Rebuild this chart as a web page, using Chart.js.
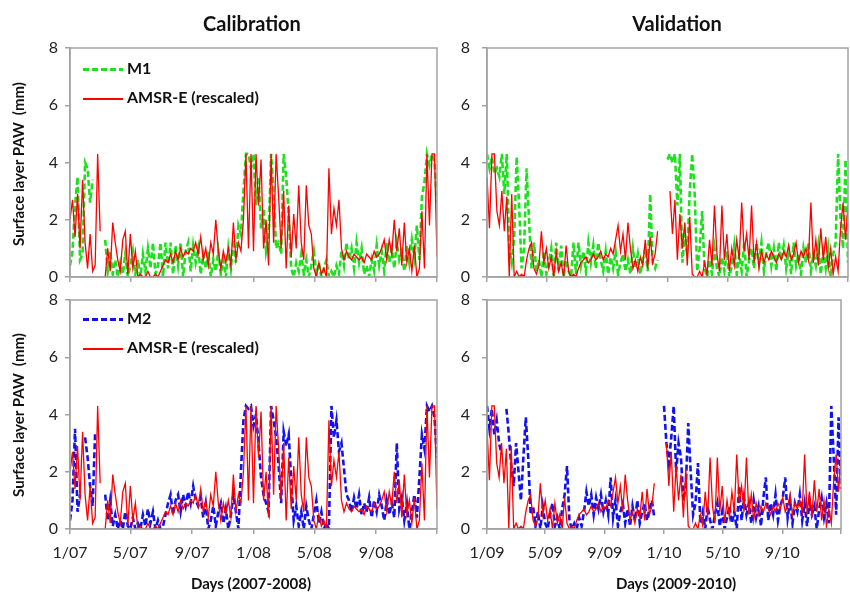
<!DOCTYPE html>
<html>
<head>
<meta charset="utf-8">
<script src="https://cdn.jsdelivr.net/npm/chart.js@4.4.1/dist/chart.umd.min.js"></script>
<style>
  body { margin: 0; background: #fff; }
  #painel { position: relative; width: 850px; height: 592px; font-family: Lato, "Open Sans", sans-serif; color: #111; overflow: hidden; }
  canvas { position: absolute; left: 0; top: 0; }
  .texto { position: absolute; font-weight: bold; white-space: nowrap; transform: translate(-50%, -50%); }
  .titulo { font-size: 20px; }
  .eixoX { font-size: 15px; }
  .eixoY { font-size: 15px; transform: translate(-50%, -50%) rotate(-90deg); }
  .legenda { position: absolute; font-weight: bold; font-size: 16px; white-space: nowrap; height: 20px; line-height: 20px; }
  .amostra { display: inline-block; width: 40px; vertical-align: middle; margin-right: 4px; }
</style>
</head>
<body>
<div id="painel">
  <canvas id="calM1" width="850" height="592"></canvas>
  <canvas id="valM1" width="850" height="592"></canvas>
  <canvas id="calM2" width="850" height="592"></canvas>
  <canvas id="valM2" width="850" height="592"></canvas>

  <div class="texto titulo" style="left:252px; top:23px;">Calibration</div>
  <div class="texto titulo" style="left:677px; top:23px;">Validation</div>
  <div class="texto eixoY" style="left:18px; top:164px;">Surface layer PAW&nbsp; (mm)</div>
  <div class="texto eixoY" style="left:18px; top:415px;">Surface layer PAW&nbsp; (mm)</div>
  <div class="texto eixoX" style="left:251px; top:583px;">Days (2007-2008)</div>
  <div class="texto eixoX" style="left:676px; top:583px;">Days (2009-2010)</div>

  <div class="legenda" style="left:83px; top:58px;"><span class="amostra" style="height:3px; background:repeating-linear-gradient(to right, #1fe01f 0 6px, transparent 6px 9px);"></span>M1</div>
  <div class="legenda" style="left:83px; top:87px;"><span class="amostra" style="height:1.5px; background:#ff0000;"></span>AMSR-E (rescaled)</div>
  <div class="legenda" style="left:83px; top:308px;"><span class="amostra" style="height:3px; background:repeating-linear-gradient(to right, #1212f0 0 6px, transparent 6px 9px);"></span>M2</div>
  <div class="legenda" style="left:83px; top:337px;"><span class="amostra" style="height:1.5px; background:#ff0000;"></span>AMSR-E (rescaled)</div>
</div>

<script>
// um valor a cada 5 dias, de 1/jan ate 31/dez do segundo ano
const passoDias = 5;

const rotulosCal = ["1/07", "5/07", "9/07", "1/08", "5/08", "9/08", ""];
const rotulosVal = ["1/09", "5/09", "9/09", "1/10", "5/10", "9/10", ""];
const marcasDias = [0, 120, 243, 365, 486, 609, 730];
const ticksY = [0, 2, 4, 6, 8];

const amsrCal = [
  2.0, 2.7, 1.4, 2.9, 1.0, 3.4, 1.2, 0.3, 1.5, 0.2,
  0.4, 4.3, 1.6, null, 0.0, 1.0, 0.2, 1.9, 1.2, 0.6,
  0.2, 1.3, 1.6, 0.1, 1.5, 0.3, 0.9, 0.0, 0.1, 0.0,
  0.0, 0.2, 0.0, 0.0, 0.1, 0.0, 0.2, 0.4, 0.6, 0.5,
  0.8, 0.5, 0.9, 0.6, 1.0, 0.7, 0.9, 0.8, 1.0, 0.9,
  1.2, 0.8, 1.4, 0.6, 1.0, 0.4, 1.2, 0.8, 2.0, 0.9,
  0.3, 0.9, 0.5, 1.0, 0.4, 1.9, 0.6, 1.2, 0.9, 2.0,
  4.3, 1.0, 4.3, 0.9, 4.3, 2.5, 4.1, 1.0, 2.0, 0.4,
  4.3, 1.2, 4.3, 2.8, 1.0, 3.0, 0.3, 2.5, 0.7, 2.2,
  1.0, 3.2, 1.2, 0.6, 3.2, 1.8, 1.5, 0.3, 0.0, 0.5,
  0.1, 0.3, 0.0, 3.8, 1.5, 2.4, 1.8, 2.7, 1.0, 0.6,
  0.9, 0.7, 0.6, 0.8, 0.7, 0.6, 0.7, 0.5, 0.8, 0.7,
  0.6, 0.9, 0.7, 0.8, 1.0, 1.3, 0.6, 1.3, 0.8, 2.0,
  0.9, 1.7, 0.4, 1.9, 0.5, 1.0, 0.2, 1.1, 0.0, 0.3,
  2.3, 0.3, 4.3, 1.8, 4.3, 4.3, 0.7
];

const m1Cal = [
  0.4, 0.9, 2.5, 3.5, 0.6, 0.8, 4.0, 3.8, 2.6, 3.4,
  null, 3.5, null, null, 1.3, 0.2, 0.9, 0.1, 0.6, 0.0,
  0.5, 0.1, 0.8, 0.0, 0.4, 0.9, 0.1, 0.6, 0.0, 0.8,
  0.2, 1.0, 0.3, 1.2, 0.1, 0.4, 1.2, 0.0, 1.2, 0.3,
  1.2, 0.1, 1.1, 0.4, 1.2, 0.0, 0.9, 1.2, 0.2, 1.1,
  0.5, 1.0, 0.1, 0.8, 0.3, 0.9, 0.0, 0.6, 0.2, 0.9,
  0.1, 0.6, 0.0, 1.0, 0.3, 1.3, 0.5, 1.8, 1.5, 3.0,
  4.3, 4.3, 3.8, 4.3, 2.5, 3.5, 1.7, 2.4, 0.9, 1.4,
  4.3, 3.0, 1.0, 1.2, 0.8, 4.3, 3.5, 2.2, 0.3, 0.0,
  0.5, 0.2, 0.8, 0.1, 0.6, 0.0, 0.4, 0.9, 0.1, 0.5,
  0.0, 0.3, 0.6, 0.0, 0.2, 0.0, 0.4, 0.1, 0.9, 0.4,
  1.2, 0.6, 1.0, 0.3, 1.2, 0.5, 1.0, 0.1, 0.4, 0.0,
  0.6, 0.2, 1.1, 0.4, 0.9, 0.2, 1.2, 0.5, 1.0, 0.3,
  1.2, 0.6, 0.9, 0.2, 1.1, 0.5, 1.3, 0.7, 1.8, 0.6,
  2.8, 3.3, 4.3, 3.9, 4.3, 4.0, 2.6
];

const m2Cal = [
  0.3, 1.0, 3.5, 0.6, 1.2, null, 3.2, 2.5, 1.5, 0.8,
  3.4, null, 3.6, null, 1.2, 0.3, 1.0, 0.1, 0.5, 0.0,
  0.3, 0.0, 0.6, 0.1, 0.0, 0.4, 0.0, 0.2, 0.0, 0.5,
  0.1, 0.7, 0.2, 0.6, 0.0, 0.3, 0.0, 0.1, 0.5, 0.9,
  1.2, 0.5, 1.0, 1.2, 0.6, 1.2, 0.8, 1.3, 0.9, 1.5,
  1.0, 0.8, 1.1, 0.4, 0.9, 0.0, 0.3, 0.8, 0.1, 0.6,
  0.9, 0.2, 0.7, 0.0, 0.5, 1.2, 0.6, 0.0, 2.0, 3.8,
  4.3, 4.2, 4.3, 3.6, 4.0, 3.0, 1.8, 1.2, 0.9, 0.6,
  4.3, 3.8, 3.2, 2.2, 0.9, 3.4, 2.9, 3.3, 1.7, 0.3,
  0.8, 0.1, 0.6, 0.0, 0.8, 0.3, 0.0, 0.5, 1.0, 0.2,
  0.6, 0.0, 0.2, 0.0, 4.3, 3.2, 3.8, 2.7, 3.0, 2.1,
  1.2, 1.0, 0.6, 1.1, 0.7, 1.2, 0.5, 0.9, 0.6, 1.1,
  0.4, 1.0, 0.6, 1.2, 0.8, 0.3, 1.0, 0.5, 0.9, 0.4,
  3.0, 0.7, 1.1, 0.3, 0.9, 0.0, 0.6, 1.2, 0.4, 1.8,
  3.3, 2.8, 4.3, 4.1, 4.3, 3.9, 2.5
];

const amsrVal = [
  3.5, 1.7, 4.3, 4.3, 2.3, 1.8, 3.0, 1.6, 2.8, 0.0,
  2.9, 0.0, 0.2, 0.0, 0.1, 0.0, 0.6, 1.0, 1.2, 0.3,
  0.1, 0.4, 1.6, 0.5, 1.0, 0.3, 0.7, 0.0, 0.9, 0.2,
  0.5, 0.0, 1.1, 0.2, 0.0, 0.1, 0.0, 0.3, 0.5, 0.6,
  0.7, 0.5, 0.6, 0.8, 0.6, 0.7, 0.9, 0.6, 0.8, 0.7,
  1.0, 0.8, 1.3, 1.8, 0.9, 1.5, 0.6, 1.9, 1.0, 0.3,
  0.6, 0.2, 0.7, 0.4, 1.3, 0.3, 1.4, 0.5, 0.8, 1.6,
  null, null, null, null, 3.0, 1.5, 2.7, 0.6, 2.2, 1.0,
  1.9, 0.4, 2.1, 0.1, 0.0, 0.0, 0.2, 0.0, 0.5, 0.1,
  1.3, 0.4, 2.5, 0.8, 0.2, 2.5, 0.6, 1.5, 0.2, 1.0,
  0.4, 1.3, 0.6, 2.6, 0.9, 1.5, 0.6, 2.5, 0.5, 1.2,
  0.3, 0.9, 0.5, 0.8, 0.6, 0.9, 0.7, 0.5, 0.8, 0.6,
  0.9, 0.7, 1.1, 0.6, 0.8, 1.2, 0.5, 0.9, 0.7, 1.0,
  0.6, 2.6, 0.5, 1.3, 0.4, 1.7, 0.6, 1.4, 0.3, 1.0,
  0.1, 0.7, 0.2, 1.7, 2.6, 1.3, 2.5
];

const m1Val = [
  4.3, 3.8, 4.2, 3.6, 3.8, 3.5, 4.3, 2.9, 4.3, 1.0,
  0.5, 1.4, 4.2, 2.5, 0.3, 1.0, 3.8, 2.0, 0.3, 1.2,
  0.2, 0.6, 0.0, 0.9, 0.1, 0.5, 1.0, 0.0, 1.2, 0.2,
  1.1, 0.0, 0.6, 0.2, 0.0, 1.2, 0.1, 1.2, 0.4, 0.9,
  0.2, 1.2, 0.5, 1.1, 0.3, 1.2, 0.6, 0.2, 0.9, 0.1,
  0.7, 0.3, 0.9, 0.1, 0.5, 0.8, 0.2, 0.6, 0.1, 1.0,
  0.3, 0.8, 0.1, 0.6, 1.0, 0.2, 2.9, 0.5, 0.3, 0.6,
  null, null, null, 4.1, 4.3, 4.0, 4.3, 2.5, 4.3, 0.5,
  1.5, 0.8, 3.0, 4.3, 2.9, 0.2, 1.0, 2.3, 0.3, 0.0,
  0.6, 0.1, 1.0, 0.3, 0.0, 0.7, 0.2, 0.9, 0.0, 0.4,
  1.1, 0.1, 0.8, 0.2, 1.2, 0.0, 0.6, 1.0, 0.3, 1.2,
  0.5, 1.2, 0.2, 0.9, 1.2, 0.4, 1.0, 0.2, 1.2, 0.6,
  1.1, 0.3, 0.9, 0.1, 1.2, 0.4, 0.8, 0.1, 1.0, 0.5,
  1.2, 0.2, 0.8, 0.4, 1.1, 0.1, 0.9, 0.3, 1.0, 0.0,
  0.8, 1.2, 4.3, 2.0, 1.0, 4.1, 0.5
];

const m2Val = [
  4.3, 3.5, 4.2, 3.3, 3.8, 3.0, 2.6, null, 4.2, 3.3,
  2.2, 1.5, 3.0, 2.0, 1.0, 2.5, 3.9, 2.5, 0.5, 0.8,
  0.1, 0.6, 0.0, 0.8, 0.2, 0.0, 0.5, 0.9, 0.1, 0.4,
  0.0, 0.7, 1.2, 2.2, 0.3, 0.0, 0.2, 0.0, 0.4, 0.1,
  0.6, 1.3, 0.8, 1.2, 0.5, 1.1, 0.7, 1.2, 0.6, 1.0,
  0.5, 1.8, 0.4, 1.0, 0.1, 0.6, 0.9, 0.2, 0.7, 0.1,
  0.8, 0.3, 1.0, 0.2, 0.6, 0.9, 0.3, 0.7, 1.0, 0.4,
  null, null, null, 4.3, 3.0, 2.3, 3.2, 4.3, 2.0, 3.0,
  2.5, 1.0, 1.5, 3.7, 2.0, 0.5, 0.9, 2.3, 0.2, 0.6,
  0.0, 0.8, 0.3, 0.0, 0.5, 0.9, 0.1, 0.6, 0.0, 0.4,
  0.8, 0.2, 0.6, 0.0, 1.5, 0.3, 1.1, 0.5, 0.9, 0.2,
  1.0, 0.4, 0.8, 0.1, 1.1, 1.8, 0.3, 0.9, 0.5, 1.2,
  0.3, 0.8, 1.1, 1.8, 0.4, 1.0, 0.2, 0.9, 0.6, 1.2,
  0.3, 0.9, 0.1, 1.0, 0.5, 0.8, 0.0, 0.7, 1.1, 0.4,
  0.9, 0.2, 4.3, 2.5, 0.5, 3.9, 1.4
];

Chart.defaults.font.family = "Lato, 'Open Sans', sans-serif";
Chart.defaults.color = "#222";

const corEixo = "#a3a3a3";

// moldura cinza em volta da area do grafico
const moldura = {
  id: "moldura",
  afterDatasetsDraw(chart) {
    const a = chart.chartArea;
    const ctx = chart.ctx;
    ctx.save();
    ctx.strokeStyle = corEixo;
    ctx.lineWidth = 1.5;
    ctx.strokeRect(a.left, a.top, a.right - a.left, a.bottom - a.top);
    ctx.restore();
  }
};

function pontos(serie) {
  return serie.map((v, i) => ({ x: i * passoDias, y: v }));
}

function plotarPainel(idCanvas, area, modelo, corModelo, amsr, rotulos, mostrarRotulos, folgaY) {
  const larguraY = 60;
  const alturaX = mostrarRotulos ? 40 : 10;

  new Chart(document.getElementById(idCanvas), {
    type: "line",
    data: {
      datasets: [
        {
          data: pontos(modelo),
          borderColor: corModelo,
          borderWidth: 2.6,
          borderDash: [6, 3],
          pointRadius: 0,
          tension: 0,
          order: 2,
        },
        {
          data: pontos(amsr),
          borderColor: "#ff0000",
          borderWidth: 1.3,
          pointRadius: 0,
          tension: 0,
          order: 1,
        },
      ],
    },
    options: {
      responsive: false,
      animation: false,
      events: [],
      layout: {
        padding: {
          left: area.esquerda - larguraY,
          right: 850 - area.direita,
          top: area.topo,
          bottom: 592 - area.base - alturaX,
        },
      },
      plugins: {
        legend: { display: false },
        tooltip: { enabled: false },
      },
      scales: {
        x: {
          type: "linear",
          min: 0,
          max: 730,
          afterFit: (s) => { s.height = alturaX; },
          afterBuildTicks: (s) => { s.ticks = marcasDias.map((d) => ({ value: d })); },
          ticks: {
            display: mostrarRotulos,
            maxRotation: 0,
            padding: 9,
            font: { size: 16 },
            callback: (valor, i) => rotulos[i],
          },
          grid: { drawOnChartArea: false, tickLength: 5, color: corEixo, lineWidth: 1.5 },
          border: { color: corEixo, width: 1.5 },
        },
        y: {
          min: 0,
          max: 8,
          afterFit: (s) => { s.width = larguraY; },
          afterBuildTicks: (s) => { s.ticks = ticksY.map((v) => ({ value: v })); },
          ticks: { padding: folgaY, font: { size: 16 } },
          grid: { drawOnChartArea: false, tickLength: 5, color: corEixo, lineWidth: 1.5 },
          border: { color: corEixo, width: 1.5 },
        },
      },
    },
    plugins: [moldura],
  });
}

plotarPainel("calM1", { esquerda: 70, direita: 437, topo: 48, base: 277 }, m1Cal, "#1fe01f", amsrCal, rotulosCal, false, 7);
plotarPainel("valM1", { esquerda: 487, direita: 848, topo: 48, base: 277 }, m1Val, "#1fe01f", amsrVal, rotulosVal, false, 12);
plotarPainel("calM2", { esquerda: 70, direita: 437, topo: 300, base: 529 }, m2Cal, "#1212f0", amsrCal, rotulosCal, true, 7);
plotarPainel("valM2", { esquerda: 487, direita: 848, topo: 300, base: 529 }, m2Val, "#1212f0", amsrVal, rotulosVal, true, 12);
</script>
</body>
</html>
